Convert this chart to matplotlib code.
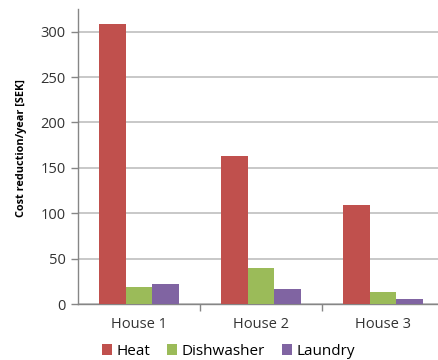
import numpy as np
import matplotlib
matplotlib.use("Agg")
import matplotlib.pyplot as plt

houses = ["House 1", "House 2", "House 3"]
heat = [309, 163, 109]
dishwasher = [19, 40, 13]
laundry = [22, 17, 5.5]
series_names = ["Heat", "Dishwasher", "Laundry"]
series_colors = ["#C0504D", "#9BBB59", "#8064A2"]

plt.rcParams["font.family"] = ["Open Sans", "DejaVu Sans"]

fig = plt.figure(figsize=(4.38, 3.6), dpi=100)
ax = fig.add_axes([78 / 438, 56 / 360, 366 / 438, 295 / 360])

x = np.arange(len(houses))
w = 0.22
for i, (vals, name, col) in enumerate(zip([heat, dishwasher, laundry], series_names, series_colors)):
    ax.bar(x + (i - 1) * w, vals, width=w, color=col, label=name, zorder=3)

ax.set_xlim(-0.5, 2.5)
ax.set_ylim(0, 325)
ax.set_yticks(range(0, 301, 50))
ax.yaxis.grid(True, color="#BFBFBF", linewidth=1.2, zorder=0)
ax.set_xticks(x)
ax.set_xticklabels(houses, fontsize=10.5)
ax.tick_params(axis="x", length=0, pad=9)
ax.set_xticks([0.5, 1.5], minor=True)
ax.tick_params(axis="x", which="minor", length=5, color="#868686", width=1)
ax.tick_params(axis="y", length=5, color="#868686", width=1, labelsize=10.5, pad=4, colors="#333333")
ax.tick_params(axis="x", colors="#333333")

for side in ["top", "right"]:
    ax.spines[side].set_visible(False)
for side in ["left", "bottom"]:
    ax.spines[side].set_color("#868686")
    ax.spines[side].set_linewidth(1)

ax.set_ylabel("Cost reduction/year [SEK]", fontsize=7.8, fontweight="bold")
ax.yaxis.set_label_coords(-0.14, 0.53)

fig.legend(loc="lower center", bbox_to_anchor=(0.522, -0.035), ncol=3, frameon=False,
           fontsize=11, handlelength=0.65, handleheight=0.65, handletextpad=0.3, columnspacing=1.1)

fig.savefig("out.png", dpi=100)
